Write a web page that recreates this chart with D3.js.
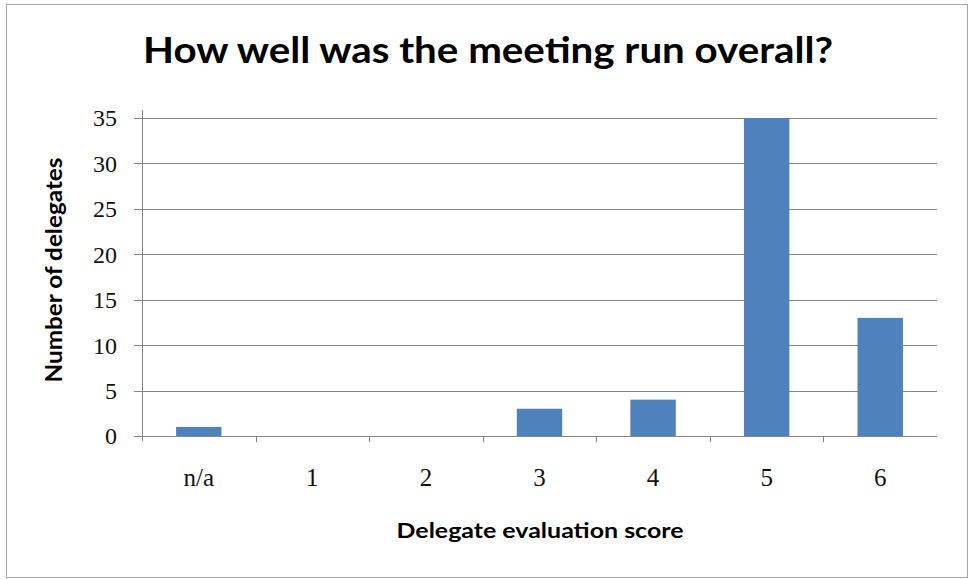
<!DOCTYPE html>
<html>
<head>
<meta charset="utf-8">
<script src="https://cdn.jsdelivr.net/npm/d3@7"></script>
<style>
  body { margin: 0; background: #fff; }
</style>
</head>
<body>
<div id="main-container"></div>
<script>
var width = 972,
    height = 579

// data
var categories = ["n/a", "1", "2", "3", "4", "5", "6"]
var delegates = [1, 0, 0, 3, 4, 35, 13]
var yTicks = [0, 5, 10, 15, 20, 25, 30, 35]

var plot = { left: 142, right: 937, top: 118, bottom: 436 }

var svg = d3.select("#main-container").append("svg")
  .attr("id", "chart")
  .attr("width", width)
  .attr("height", height)

// outer frame
svg.append("rect")
  .attr("x", 6.5).attr("y", 4.5)
  .attr("width", 961).attr("height", 573)
  .attr("fill", "#fff")
  .attr("stroke", "#a6a6a6")

var x = d3.scaleBand()
  .domain(categories)
  .range([plot.left, plot.right])
  .paddingInner(0.6)
  .paddingOuter(0.3)

var xOuter = d3.scaleBand()
  .domain(categories)
  .range([plot.left, plot.right])

var y = d3.scaleLinear()
  .domain([0, 35])
  .range([plot.bottom, plot.top])

// gridlines
svg.append("g")
  .selectAll("line")
  .data(yTicks)
  .enter()
  .append("line")
    .attr("x1", plot.left - 8)
    .attr("x2", plot.right)
    .attr("y1", function(d){ return Math.round(y(d)) + 0.5 })
    .attr("y2", function(d){ return Math.round(y(d)) + 0.5 })
    .attr("stroke", "#868686")
    .attr("stroke-width", 1)

// y axis line
svg.append("line")
  .attr("x1", plot.left + 0.5).attr("x2", plot.left + 0.5)
  .attr("y1", plot.top - 8).attr("y2", plot.bottom + 5)
  .attr("stroke", "#868686")

// x category tick marks
svg.append("g")
  .selectAll("line")
  .data(categories.slice(1))
  .enter()
  .append("line")
    .attr("x1", function(d){ return Math.round(xOuter(d)) + 0.5 })
    .attr("x2", function(d){ return Math.round(xOuter(d)) + 0.5 })
    .attr("y1", plot.bottom)
    .attr("y2", plot.bottom + 6)
    .attr("stroke", "#868686")

// bars
svg.append("g")
  .selectAll("rect")
  .data(delegates)
  .enter()
  .append("rect")
    .attr("x", function(d, i){ return x(categories[i]) })
    .attr("width", x.bandwidth())
    .attr("y", function(d){ return y(d) })
    .attr("height", function(d){ return y(0) - y(d) })
    .attr("fill", "#4f81bd")

// y tick labels
svg.append("g")
  .selectAll("text")
  .data(yTicks)
  .enter()
  .append("text")
    .attr("x", plot.left - 25)
    .attr("y", function(d){ return y(d) })
    .attr("dy", "0.35em")
    .attr("text-anchor", "end")
    .attr("font-family", "Liberation Serif")
    .attr("font-size", 24)
    .attr("fill", "#111")
    .text(function(d){ return d })

// x tick labels
svg.append("g")
  .selectAll("text")
  .data(categories)
  .enter()
  .append("text")
    .attr("x", function(d){ return xOuter(d) + xOuter.bandwidth() / 2 })
    .attr("y", 486)
    .attr("text-anchor", "middle")
    .attr("font-family", "Liberation Serif")
    .attr("font-size", 25)
    .attr("fill", "#111")
    .text(function(d){ return d })

// title
svg.append("text")
  .attr("x", 488)
  .attr("y", 63)
  .attr("text-anchor", "middle")
  .attr("font-family", "Lato")
  .attr("font-weight", "bold")
  .attr("font-size", 37)
  .attr("textLength", 690)
  .attr("lengthAdjust", "spacingAndGlyphs")
  .attr("fill", "#000")
  .text("How well was the meeting run overall?")

// axis titles
svg.append("text")
  .attr("x", 540)
  .attr("y", 538)
  .attr("text-anchor", "middle")
  .attr("font-family", "Lato")
  .attr("font-weight", "bold")
  .attr("font-size", 21)
  .attr("textLength", 287)
  .attr("lengthAdjust", "spacingAndGlyphs")
  .attr("fill", "#000")
  .text("Delegate evaluation score")

svg.append("text")
  .attr("transform", "translate(62,270) rotate(-90)")
  .attr("text-anchor", "middle")
  .attr("font-family", "Lato")
  .attr("font-weight", "bold")
  .attr("font-size", 22)
  .attr("textLength", 225)
  .attr("lengthAdjust", "spacingAndGlyphs")
  .attr("fill", "#000")
  .text("Number of delegates")
</script>
</body>
</html>
